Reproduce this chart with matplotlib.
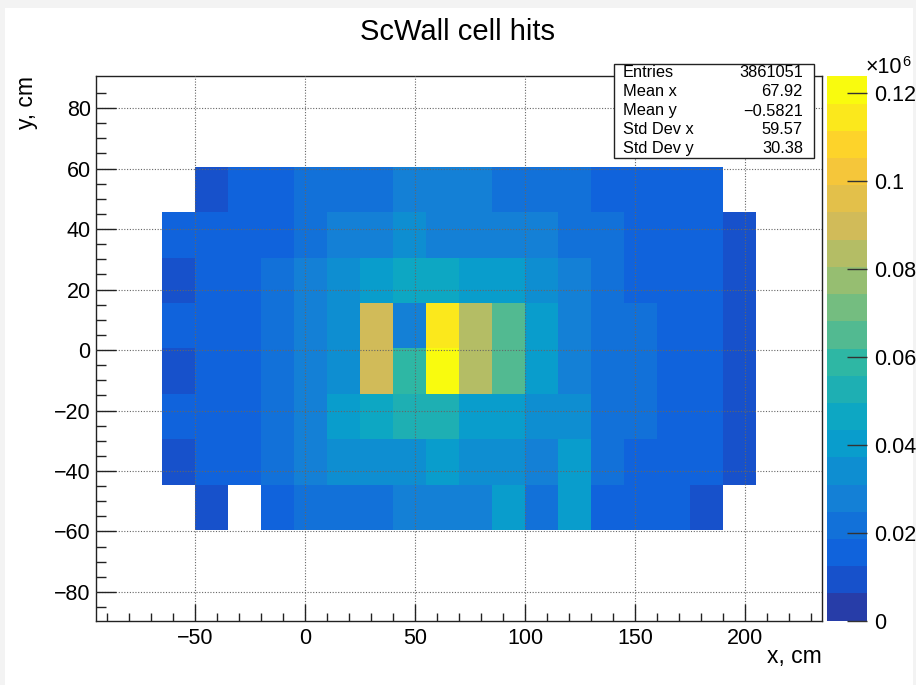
import matplotlib
matplotlib.use("Agg")
import matplotlib.pyplot as plt
import numpy as np
from matplotlib.colors import LinearSegmentedColormap, ListedColormap, Normalize
from matplotlib.patches import Rectangle

plt.rcParams['font.family'] = ['Liberation Sans', 'DejaVu Sans']

# cell edges (cm)
x_edges = np.arange(-65, 206, 15)
y_edges = np.arange(-59.5, 61, 15)

# hits per cell, in thousands; rows from top (y 45..60) to bottom (y -60..-45), 0 = no hits
hits_k = [
    [0.0, 9.5, 15.4, 15.4, 21.6, 21.6, 21.6, 28.0, 28.0, 28.0, 21.6, 21.6, 21.6, 15.4, 15.4, 15.4, 15.4, 0.0],
    [15.4, 15.4, 15.4, 15.4, 21.6, 28.0, 28.0, 34.2, 28.0, 28.0, 28.0, 28.0, 21.6, 21.6, 15.4, 15.4, 15.4, 9.5],
    [9.5, 15.4, 15.4, 21.6, 28.0, 34.2, 40.1, 46.6, 46.6, 40.1, 40.1, 34.2, 28.0, 21.6, 15.4, 15.4, 15.4, 9.5],
    [15.4, 15.4, 15.4, 21.6, 28.0, 34.2, 89.7, 28.0, 114.5, 84.0, 65.3, 40.1, 28.0, 21.6, 21.6, 15.4, 15.4, 9.5],
    [9.5, 15.4, 15.4, 21.6, 28.0, 34.2, 89.7, 59.0, 123.9, 84.0, 65.3, 40.1, 28.0, 21.6, 21.6, 15.4, 15.4, 9.5],
    [15.4, 15.4, 15.4, 21.6, 28.0, 40.1, 46.6, 52.9, 52.9, 40.1, 40.1, 34.2, 34.2, 21.6, 21.6, 15.4, 15.4, 9.5],
    [9.5, 15.4, 15.4, 21.6, 28.0, 34.2, 34.2, 34.2, 40.1, 34.2, 34.2, 28.0, 40.1, 21.6, 15.4, 15.4, 15.4, 9.5],
    [0.0, 9.5, 0.0, 15.4, 21.6, 21.6, 21.6, 28.0, 28.0, 28.0, 40.1, 21.6, 40.1, 15.4, 15.4, 15.4, 9.5, 0.0],
]

stat_names = ['Entries', 'Mean x', 'Mean y', 'Std Dev x', 'Std Dev y']
stat_values = ['3861051', '67.92', '\u22120.5821', '59.57', '30.38']

# ROOT kBird palette
stops = [0.0000, 0.1250, 0.2500, 0.3750, 0.5000, 0.6250, 0.7500, 0.8750, 1.0000]
red = [0.2082, 0.0592, 0.0780, 0.0232, 0.1802, 0.5301, 0.8186, 0.9956, 0.9764]
green = [0.1664, 0.3599, 0.5041, 0.6419, 0.7178, 0.7492, 0.7328, 0.7862, 0.9832]
blue = [0.5293, 0.8684, 0.8385, 0.7914, 0.6425, 0.4662, 0.3499, 0.1968, 0.0539]
bird = LinearSegmentedColormap.from_list(
    'bird', [(s, (r, g, b)) for s, r, g, b in zip(stops, red, green, blue)], N=255)
ncont = 20
band_cols = [bird(int((i + 0.99) * 255 / ncont) / 254.0) for i in range(ncont)]
cmap = ListedColormap(band_cols)

W, H = 916, 685
fig = plt.figure(figsize=(W / 100, H / 100), dpi=100)
fig.patch.set_facecolor('#f3f3f3')
fig.patches.append(Rectangle((5 / W, 0), 908 / W, 677 / H, transform=fig.transFigure,
                             facecolor='white', edgecolor='none', zorder=-10))

left, right, top, bottom = 96.3, 822, 76.3, 620.7
ax = fig.add_axes([left / W, (H - bottom) / H, (right - left) / W, (bottom - top) / H])

z = np.ma.masked_equal(np.array(hits_k[::-1]) * 1000, 0)
zmax = z.max()
mesh = ax.pcolormesh(x_edges, y_edges, z, cmap=cmap, norm=Normalize(0, zmax))

ax.set_xlim(-95, 235)
ax.set_ylim(-89.5, 90.5)
ax.set_xticks(np.arange(-50, 201, 50))
ax.set_xticks(np.arange(-90, 235, 10), minor=True)
ax.set_yticks(np.arange(-80, 81, 20))
ax.set_yticks(np.arange(-85, 90, 5), minor=True)
ax.tick_params(which='both', direction='in', labelsize=15.5, width=1, color='#222222')
ax.tick_params(axis='x', which='major', length=12.2, pad=5)
ax.tick_params(axis='x', which='minor', length=5.8)
ax.tick_params(axis='y', which='major', length=14.4, pad=4)
ax.tick_params(axis='y', which='minor', length=7.2)
ax.set_axisbelow(False)
ax.grid(True, which='major', color='#666666', linestyle=(0, (1, 1.5)), linewidth=0.8)
for sp in ax.spines.values():
    sp.set_linewidth(1)
    sp.set_color('#222222')

fig.text(right / W, (H - 657) / H, 'x, cm', ha='right', va='center', fontsize=16.5)
fig.text(26 / W, (H - top) / H, 'y, cm', ha='center', va='top', rotation=90, fontsize=16.5)
fig.text(0.5, (H - 32) / H, 'ScWall cell hits', ha='center', va='center', fontsize=21)

# colour bar
cax = fig.add_axes([827 / W, (H - bottom) / H, 40 / W, (bottom - top) / H])
cbar = fig.colorbar(mesh, cax=cax)
cbar.outline.set_visible(False)
zt = np.arange(0, 0.121, 0.02)
cbar.set_ticks(zt * 1e6)
cbar.set_ticklabels(['0'] + ['%g' % t for t in zt[1:]])
cax.tick_params(direction='in', length=14.4, width=1, labelsize=15.5, pad=5, color='#333333')
cax.minorticks_off()
fig.text(866 / W, (H - 73.3) / H, '\u00d710', ha='left', va='baseline', fontsize=15.5)
fig.text(902 / W, (H - 66.5) / H, '6', ha='left', va='baseline', fontsize=10.5)

# statistics box
bx0, by0, bx1, by1 = 613.5, 64.3, 813.5, 158.3
fig.patches.append(Rectangle((bx0 / W, (H - by1) / H), (bx1 - bx0) / W, (by1 - by0) / H,
                             transform=fig.transFigure, facecolor='white',
                             edgecolor='#222222', linewidth=1, zorder=5))
line_y = [72.3, 91.7, 111, 130, 148.3]
for name, val, yy in zip(stat_names, stat_values, line_y):
    fig.text(623 / W, (H - yy) / H, name, ha='left', va='center', fontsize=11.8, zorder=6)
    fig.text(803 / W, (H - yy) / H, val, ha='right', va='center', fontsize=11.8, zorder=6)

fig.savefig('out.png', dpi=100)
